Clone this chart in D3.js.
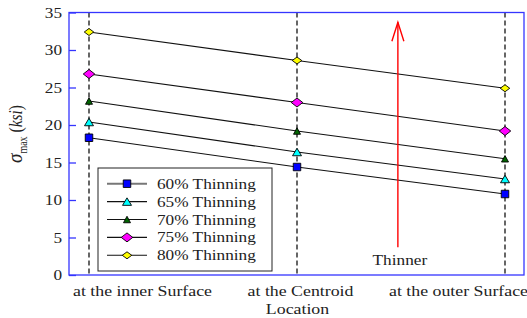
<!DOCTYPE html>
<html>
<head>
<meta charset="utf-8">
<script src="https://cdn.jsdelivr.net/npm/d3@7"></script>
<style>
  body { margin: 0; background: #fff; }
  svg { display: block; font-family: "Liberation Serif", "Times New Roman", serif; }
</style>
</head>
<body>
<svg id="chart" width="527" height="318"></svg>
<script>
// categories along the x axis
const locations = ["at the inner Surface", "at the Centroid", "at the outer Surface"];

// sigma max (ksi) per thinning level, at the 3 locations
const thin60 = [18.3, 14.4, 10.8];
const thin65 = [20.4, 16.4, 12.8];
const thin70 = [23.2, 19.2, 15.5];
const thin75 = [26.8, 23.0, 19.2];
const thin80 = [32.4, 28.6, 24.9];

const seriesNames = ["60% Thinning", "65% Thinning", "70% Thinning", "75% Thinning", "80% Thinning"];
const yTicks = [0, 5, 10, 15, 20, 25, 30, 35];

const series = [thin60, thin65, thin70, thin75, thin80];

// marker look for each series
const markers = [
  {fill: "#0000ff", shape: "square", w: 7.5, h: 7.5},
  {fill: "#00ffff", shape: "tri", w: 9, h: 7.5},
  {fill: "#006400", shape: "tri", w: 7, h: 6.5},
  {fill: "#ff00ff", shape: "diamond", w: 11.5, h: 9},
  {fill: "#ffff00", shape: "diamond", w: 9.5, h: 7}
];

function markerPath(m) {
  let w = m.w / 2, h = m.h / 2;
  if (m.shape == "square") return `M${-w},${-h}H${w}V${h}H${-w}Z`;
  if (m.shape == "tri") return `M0,${-h}L${w},${h}L${-w},${h}Z`;
  return `M${-w},0L0,${-h}L${w},0L0,${h}Z`;
}

const serif = '"Liberation Serif", "Times New Roman", serif';
const frameColor = "#3535ff";
const sx = 1.15;   // text in the source is a bit stretched sideways

const mLeft = 69, mRight = 524, mTop = 12.5, mBottom = 275;

const svg = d3.select("#chart");

const x = d3.scalePoint().domain(locations).range([89, 505]);
const xLab = d3.scalePoint().domain(locations).range([142, 458]);
const y = d3.scaleLinear().domain([0, 35]).range([mBottom, mTop]);

// dashed verticals through each location
svg.append("g")
  .selectAll("line")
  .data(locations)
  .enter()
  .append("line")
  .attr("x1", d => x(d)).attr("x2", d => x(d))
  .attr("y1", mTop).attr("y2", mBottom)
  .attr("stroke", "#000")
  .attr("stroke-width", 1.2)
  .attr("stroke-dasharray", "5,3");

// y axis, ticks pointing in
const yAxis = svg.append("g")
  .attr("transform", `translate(${mLeft},0)`)
  .call(d3.axisLeft(y).tickValues(yTicks).tickSize(-7).tickPadding(7))
  .attr("font-family", serif)
  .attr("font-size", 15);
yAxis.select(".domain").remove();
yAxis.selectAll("line").attr("stroke", frameColor).attr("stroke-width", 1.3);
yAxis.selectAll("text")
  .attr("fill", "#222")
  .attr("transform", `scale(${sx},1)`)
  .attr("x", -7 / sx);

// x labels
const xAxis = svg.append("g")
  .attr("transform", `translate(0,${mBottom})`)
  .call(d3.axisBottom(xLab).tickSize(0).tickPadding(10))
  .attr("font-family", serif)
  .attr("font-size", 15.5);
xAxis.select(".domain").remove();
xAxis.selectAll("text")
  .attr("fill", "#222")
  .attr("transform", `scale(${sx},1)`)
  .attr("x", 0);

svg.append("text")
  .attr("transform", `translate(${(mLeft + mRight) / 2 + 1},314) scale(${sx},1)`)
  .attr("text-anchor", "middle")
  .attr("fill", "#222")
  .style("font-size", "15.5px")
  .text("Location");

// y title
const yt = svg.append("text")
  .attr("transform", `translate(22,134) rotate(-90) scale(1,${sx})`)
  .attr("text-anchor", "middle")
  .attr("fill", "#222")
  .style("font-size", "15.5px");
yt.append("tspan").style("font-style", "italic").style("font-size", "19px").text("σ");
yt.append("tspan").attr("dy", 4).style("font-size", "10px").text("max");
yt.append("tspan").attr("dy", -4).text(" (");
yt.append("tspan").style("font-style", "italic").text("ksi");
yt.append("tspan").text(")");

// series lines + markers
const line = d3.line().x((d, i) => x(locations[i])).y(d => y(d));

svg.append("g")
  .selectAll("path")
  .data(series)
  .enter()
  .append("path")
  .attr("d", line)
  .attr("fill", "none")
  .attr("stroke", "#111")
  .attr("stroke-width", 1.1);

series.forEach(function(s, k) {
  svg.append("g")
    .selectAll("path")
    .data(s)
    .enter()
    .append("path")
    .attr("transform", (d, i) => `translate(${x(locations[i])},${y(d)})`)
    .attr("d", markerPath(markers[k]))
    .attr("fill", markers[k].fill)
    .attr("stroke", "#000")
    .attr("stroke-width", 0.9);
});

// "thinner" arrow between centroid and outer surface
const ax = x(locations[1]) + 0.485 * (x(locations[2]) - x(locations[1]));
const arrowFrom = 3.7, arrowTo = 33.7;
svg.append("line")
  .attr("x1", ax).attr("x2", ax)
  .attr("y1", y(arrowFrom)).attr("y2", y(arrowTo))
  .attr("stroke", "#ff0000")
  .attr("stroke-width", 1.4);
svg.append("path")
  .attr("d", `M${ax - 6},${y(arrowTo) + 19}L${ax},${y(arrowTo)}L${ax + 6},${y(arrowTo) + 19}`)
  .attr("fill", "none")
  .attr("stroke", "#ff0000")
  .attr("stroke-width", 1.4);
svg.append("text")
  .attr("transform", `translate(${ax + 2},${y(1.3)}) scale(${sx},1)`)
  .attr("text-anchor", "middle")
  .attr("fill", "#222")
  .style("font-size", "15px")
  .text("Thinner");

// legend
const lg = svg.append("g").attr("transform", "translate(98,168)");
lg.append("rect")
  .attr("width", 174).attr("height", 103)
  .attr("fill", "#fff")
  .attr("stroke", "#222")
  .attr("stroke-width", 1);

const rows = lg.selectAll("g.row")
  .data(seriesNames)
  .enter()
  .append("g")
  .attr("class", "row")
  .attr("transform", (d, i) => `translate(0,${15.7 + i * 17.9})`);

rows.append("line")
  .attr("x1", 9).attr("x2", 49)
  .attr("stroke", (d, i) => i == 0 ? "#777" : "#111")
  .attr("stroke-width", (d, i) => i == 0 ? 2 : 1.1);
rows.append("path")
  .attr("transform", "translate(29,0)")
  .attr("d", (d, i) => markerPath(markers[i]))
  .attr("fill", (d, i) => markers[i].fill)
  .attr("stroke", "#000")
  .attr("stroke-width", 0.9);
rows.append("text")
  .attr("transform", `translate(59,5) scale(${sx},1)`)
  .attr("fill", "#222")
  .style("font-size", "15px")
  .text(d => d);

// frame on top
svg.append("rect")
  .attr("x", mLeft).attr("y", mTop)
  .attr("width", mRight - mLeft).attr("height", mBottom - mTop)
  .attr("fill", "none")
  .attr("stroke", frameColor)
  .attr("stroke-width", 1.3);
</script>
</body>
</html>
